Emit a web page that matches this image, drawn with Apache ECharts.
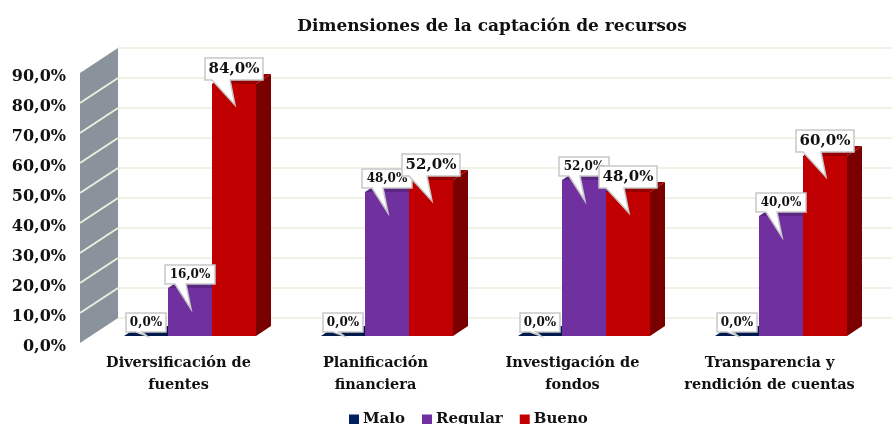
<!DOCTYPE html>
<html>
<head>
<meta charset="utf-8">
<title>Dimensiones de la captación de recursos</title>
<script src="https://cdn.jsdelivr.net/npm/echarts@6/dist/echarts.min.js"></script>
<style>
html, body { margin: 0; padding: 0; background: #fff; overflow: hidden; }
#main { width: 892px; height: 424px; }
</style>
</head>
<body>
<div id="main"></div>
<script>
var categories = ['Diversificación de\nfuentes', 'Planificación\nfinanciera', 'Investigación de\nfondos', 'Transparencia y\nrendición de cuentas'];
var yTicks = [0, 10, 20, 30, 40, 50, 60, 70, 80, 90];
var malo = [0, 0, 0, 0];
var regular = [16, 48, 52, 40];
var bueno = [84, 52, 48, 60];

var fontName = '"DejaVu Serif", serif';
var barW = 44;
var depth = { x: 15, y: 10 };
var wallDepth = { x: 38, y: 25 };

function pct (v) {
    return v.toFixed(1).replace('.', ',') + '%';
}
function points (values) {
    return values.map(function (v, i) { return [i, v]; });
}

// bar with its top and side faces, slot -1, 0, 1 inside the category
function barSeries (name, values, slot, colors) {
    return {
        name: name,
        type: 'custom',
        xAxisIndex: 1,
        yAxisIndex: 1,
        z: 3,
        clip: false,
        data: points(values),
        itemStyle: { color: colors[0] },
        renderItem: function (params, api) {
            var top = api.coord([api.value(0), api.value(1)]);
            var base = api.coord([api.value(0), 0]);
            var l = top[0] + (slot - 0.5) * barW;
            var r = l + barW;
            return {
                type: 'group',
                children: [
                    { type: 'polygon', shape: { points: [[r, top[1]], [r + depth.x, top[1] - depth.y], [r + depth.x, base[1] - depth.y], [r, base[1]]] }, style: { fill: colors[2] } },
                    { type: 'polygon', shape: { points: [[l, top[1]], [l + depth.x, top[1] - depth.y], [r + depth.x, top[1] - depth.y], [r, top[1]]] }, style: { fill: colors[1] } },
                    { type: 'rect', shape: { x: l, y: top[1], width: barW, height: base[1] - top[1] }, style: { fill: colors[0] } }
                ]
            };
        }
    };
}

// white callout above the bar, tail pointing into it
function calloutSeries (name, values, slot, big) {
    return {
        name: name,
        type: 'custom',
        xAxisIndex: 1,
        yAxisIndex: 1,
        z: 5,
        clip: false,
        silent: true,
        data: points(values),
        renderItem: function (params, api) {
            var v = api.value(1);
            var p = api.coord([api.value(0), v]);
            var cx = p[0] + slot * barW;
            var w = big ? 58 : (v === 0 ? 40 : 50);
            var h = big ? 22 : 19;
            var bottom = p[1] - 4;
            var rectTop = bottom - h;
            var tailL = cx - w / 2 + (big ? 7 : 10);
            var tailR = cx - 4;
            // the zero bars have no front face, tail stops at the floor
            var tipY = v === 0 ? p[1] : p[1] + 21;
            return {
                type: 'group',
                children: [
                    {
                        type: 'polygon',
                        shape: { points: [[cx - w / 2, rectTop], [cx + w / 2, rectTop], [cx + w / 2, bottom], [tailR, bottom], [cx + 1, tipY], [tailL, bottom], [cx - w / 2, bottom]] },
                        style: { fill: '#fff', stroke: '#c8c8c8', lineWidth: 1.5 }
                    },
                    {
                        type: 'text',
                        style: {
                            x: cx,
                            y: rectTop + h / 2,
                            text: pct(v),
                            align: 'center',
                            verticalAlign: 'middle',
                            fill: '#111',
                            font: 'bold ' + (big ? 15 : 12) + 'px ' + fontName
                        }
                    }
                ]
            };
        }
    };
}

var option = {
    backgroundColor: '#fff',
    animation: false,
    title: {
        text: 'Dimensiones de la captación de recursos',
        left: 487,
        top: 13,
        textAlign: 'center',
        textStyle: { color: '#111', fontFamily: fontName, fontSize: 17, fontWeight: 'bold' }
    },
    legend: {
        data: [
            { name: 'Malo', itemStyle: { color: '#002060' } },
            { name: 'Regular', itemStyle: { color: '#7030A0' } },
            { name: 'Bueno', itemStyle: { color: '#C00000' } }
        ],
        left: 349,
        top: 412,
        icon: 'rect',
        itemWidth: 10,
        itemHeight: 10,
        itemGap: 17,
        padding: 0,
        textStyle: { color: '#111', fontFamily: fontName, fontSize: 15, fontWeight: 'bold', padding: [0, 0, 0, -1] }
    },
    grid: [
        // front plane, carries the tick labels and the wall
        { left: 80, top: 73, width: 788, height: 270 },
        // plane of the bars
        { left: 91.5, top: 66, width: 788, height: 270 },
        // back plane, carries the gridlines
        { left: 118, top: 48, width: 774, height: 270 }
    ],
    xAxis: [
        {
            type: 'category', gridIndex: 0, data: categories,
            axisLine: { show: false }, axisTick: { show: false },
            axisLabel: { margin: 9, lineHeight: 22, color: '#111', fontFamily: fontName, fontSize: 14.5, fontWeight: 'bold', interval: 0 }
        },
        { type: 'category', gridIndex: 1, data: categories, axisLine: { show: false }, axisTick: { show: false }, axisLabel: { show: false } },
        { type: 'category', gridIndex: 2, data: categories, axisLine: { show: false }, axisTick: { show: false }, axisLabel: { show: false } }
    ],
    yAxis: [
        {
            type: 'value', gridIndex: 0, min: 0, max: 90, interval: 10,
            axisLine: { show: false }, axisTick: { show: false }, splitLine: { show: false },
            axisLabel: {
                margin: 14,
                formatter: function (v) { return '{v|' + pct(v) + '}'; },
                rich: { v: { padding: [7, 0, 0, 0], color: '#111', fontFamily: fontName, fontSize: 16, fontWeight: 'bold' } }
            }
        },
        { type: 'value', gridIndex: 1, min: 0, max: 90, interval: 10, axisLine: { show: false }, axisTick: { show: false }, splitLine: { show: false }, axisLabel: { show: false } },
        {
            type: 'value', gridIndex: 2, min: 0, max: 90, interval: 10,
            axisLine: { show: false }, axisTick: { show: false }, axisLabel: { show: false },
            splitLine: { lineStyle: { color: '#edf4e6', width: 2 } }
        }
    ],
    series: [
        {
            name: 'Pared',
            type: 'custom',
            xAxisIndex: 0,
            yAxisIndex: 0,
            z: 1,
            clip: false,
            silent: true,
            data: yTicks.map(function (t) { return [0, t]; }),
            renderItem: function (params, api) {
                var tick = api.value(1);
                if (tick === yTicks[yTicks.length - 1]) {
                    return null;
                }
                // one wall panel per tick, up to the next tick
                var x = params.coordSys.x;
                var y = api.coord([0, tick])[1];
                var next = api.coord([0, tick + 10])[1];
                var children = [
                    { type: 'polygon', shape: { points: [[x, y], [x + wallDepth.x, y - wallDepth.y], [x + wallDepth.x, next - wallDepth.y], [x, next]] }, style: { fill: '#8a929c' } }
                ];
                if (tick !== 0) {
                    children.push({
                        type: 'line',
                        z2: 2,
                        shape: { x1: x, y1: y, x2: x + wallDepth.x, y2: y - wallDepth.y },
                        style: { stroke: '#e8f0e0', lineWidth: 2 }
                    });
                }
                return { type: 'group', children: children };
            }
        },
        barSeries('Malo', malo, -1, ['#002060', '#001a4d', '#00163f']),
        barSeries('Regular', regular, 0, ['#7030A0', '#5a2785', '#4e2270']),
        barSeries('Bueno', bueno, 1, ['#C00000', '#980000', '#7a0000']),
        calloutSeries('Etiqueta Malo', malo, -1, false),
        calloutSeries('Etiqueta Regular', regular, 0, false),
        calloutSeries('Etiqueta Bueno', bueno, 1, true)
    ]
};

var chart = echarts.init(document.getElementById('main'));
chart.setOption(option);
</script>
</body>
</html>
